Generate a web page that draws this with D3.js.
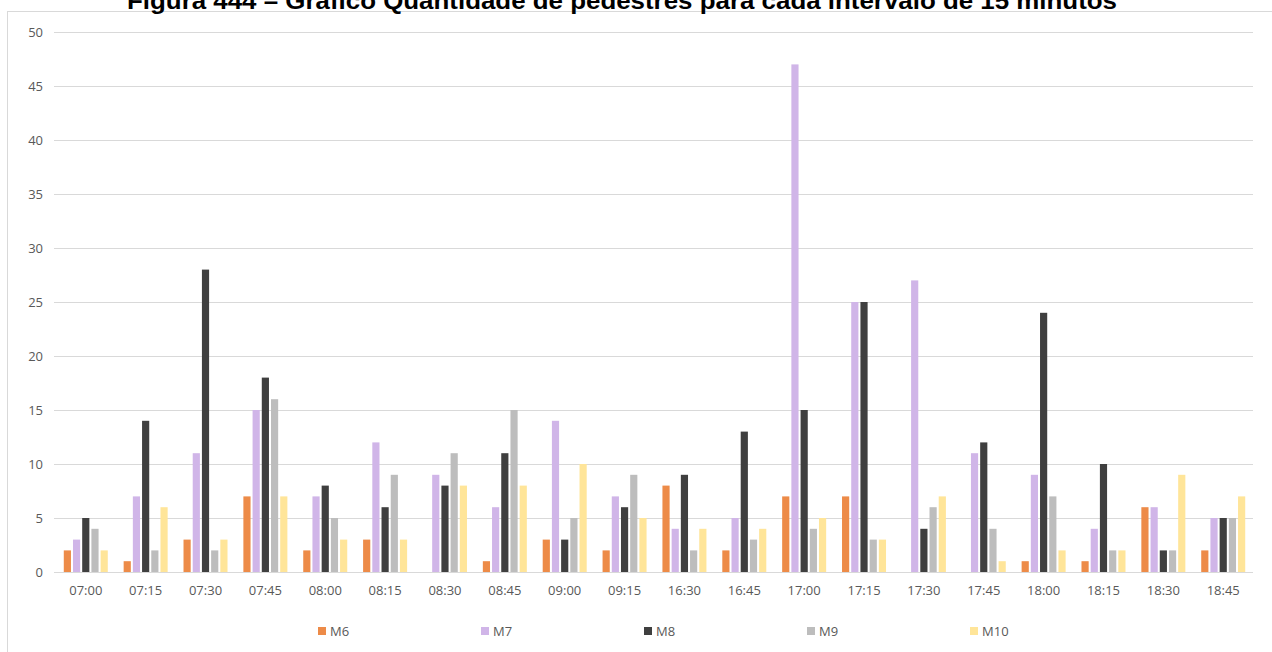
<!DOCTYPE html>
<html>
<head>
<meta charset="utf-8">
<script src="https://cdn.jsdelivr.net/npm/d3@7"></script>
<style>
  html, body { margin: 0; padding: 0; background: #fff; }
  svg { display: block; }
</style>
</head>
<body>
<svg id="chart" width="1272" height="652"></svg>
<script>
const titleText = "Figura 444 – Gráfico Quantidade de pedestres para cada intervalo de 15 minutos";
const categories = ["07:00","07:15","07:30","07:45","08:00","08:15","08:30","08:45","09:00","09:15",
                    "16:30","16:45","17:00","17:15","17:30","17:45","18:00","18:15","18:30","18:45"];
const seriesNames = ["M6","M7","M8","M9","M10"];
const M6  = [2, 1, 3, 7, 2, 3, 0, 1, 3, 2, 8, 2, 7, 7, 0, 0, 1, 1, 6, 2];
const M7  = [3, 7, 11, 15, 7, 12, 9, 6, 14, 7, 4, 5, 47, 25, 27, 11, 9, 4, 6, 5];
const M8  = [5, 14, 28, 18, 8, 6, 8, 11, 3, 6, 9, 13, 15, 25, 4, 12, 24, 10, 2, 5];
const M9  = [4, 2, 2, 16, 5, 9, 11, 15, 5, 9, 2, 3, 4, 3, 6, 4, 7, 2, 2, 5];
const M10 = [2, 6, 3, 7, 3, 3, 8, 8, 10, 5, 4, 4, 5, 3, 7, 1, 2, 2, 9, 7];
const yTicks = [0, 5, 10, 15, 20, 25, 30, 35, 40, 45, 50];
const colors = ["#ED8B48", "#D0B5E8", "#3F3F3F", "#BDBDBD", "#FFE599"];

const seriesValues = [M6, M7, M8, M9, M10];
const rows = categories.map((c, i) => ({
  cat: c,
  vals: seriesNames.map((s, j) => ({ name: s, value: seriesValues[j][i], color: colors[j] }))
}));

const svg = d3.select("#chart");
const labelFont = "'Open Sans', 'Liberation Sans', sans-serif";

// chart area frame
svg.append("rect")
  .attr("x", 7.5).attr("y", 11.5)
  .attr("width", 1300).attr("height", 700)
  .attr("fill", "#fff").attr("stroke", "#D9D9D9").attr("stroke-width", 1);

// title (partially cut at the top, like the reference)
svg.append("text")
  .attr("x", 622).attr("y", 9)
  .attr("text-anchor", "middle")
  .attr("font-family", "'Liberation Sans', Arial, sans-serif")
  .attr("font-weight", "bold")
  .attr("font-size", 24)
  .attr("textLength", 990)
  .attr("lengthAdjust", "spacingAndGlyphs")
  .attr("fill", "#000")
  .text(titleText);

const plotLeft = 54, plotRight = 1253;
const y = d3.scaleLinear().domain([0, 50]).range([572, 32]);
const x0 = d3.scaleBand().domain(categories).range([56, 1253]).paddingInner(0.265).paddingOuter(0.13);
const x1 = d3.scaleBand().domain(seriesNames).range([0, x0.bandwidth()]).paddingInner(0.22);

// y axis with gridlines
const yAxis = svg.append("g")
  .attr("transform", `translate(${plotLeft},0)`)
  .call(d3.axisLeft(y).tickValues(yTicks).tickSize(-(plotRight - plotLeft)).tickPadding(11));
yAxis.select(".domain").remove();
yAxis.selectAll(".tick line").attr("stroke", "#D9D9D9").attr("stroke-width", 1);
yAxis.selectAll(".tick text")
  .attr("font-family", labelFont).attr("font-size", 13).attr("fill", "#595959");

// bars
const groups = svg.append("g").selectAll("g")
  .data(rows).join("g")
  .attr("transform", d => `translate(${x0(d.cat)},0)`);
groups.selectAll("rect")
  .data(d => d.vals).join("rect")
  .attr("x", d => x1(d.name))
  .attr("width", x1.bandwidth())
  .attr("y", d => y(d.value))
  .attr("height", d => y(0) - y(d.value))
  .attr("fill", d => d.color);

// x axis
const xAxis = svg.append("g")
  .attr("transform", `translate(0,${y(0)})`)
  .call(d3.axisBottom(x0).tickSize(0).tickPadding(14));
xAxis.select(".domain").remove();
xAxis.selectAll(".tick text")
  .attr("font-family", labelFont).attr("font-size", 13).attr("fill", "#595959");

// legend
const legend = svg.append("g").selectAll("g")
  .data(seriesNames).join("g")
  .attr("transform", (d, i) => `translate(${318 + i * 163},627)`);
legend.append("rect")
  .attr("width", 8).attr("height", 8)
  .attr("fill", (d, i) => colors[i]);
legend.append("text")
  .attr("x", 12).attr("y", 9)
  .attr("font-family", labelFont).attr("font-size", 13).attr("fill", "#595959")
  .text(d => d);
</script>
</body>
</html>
